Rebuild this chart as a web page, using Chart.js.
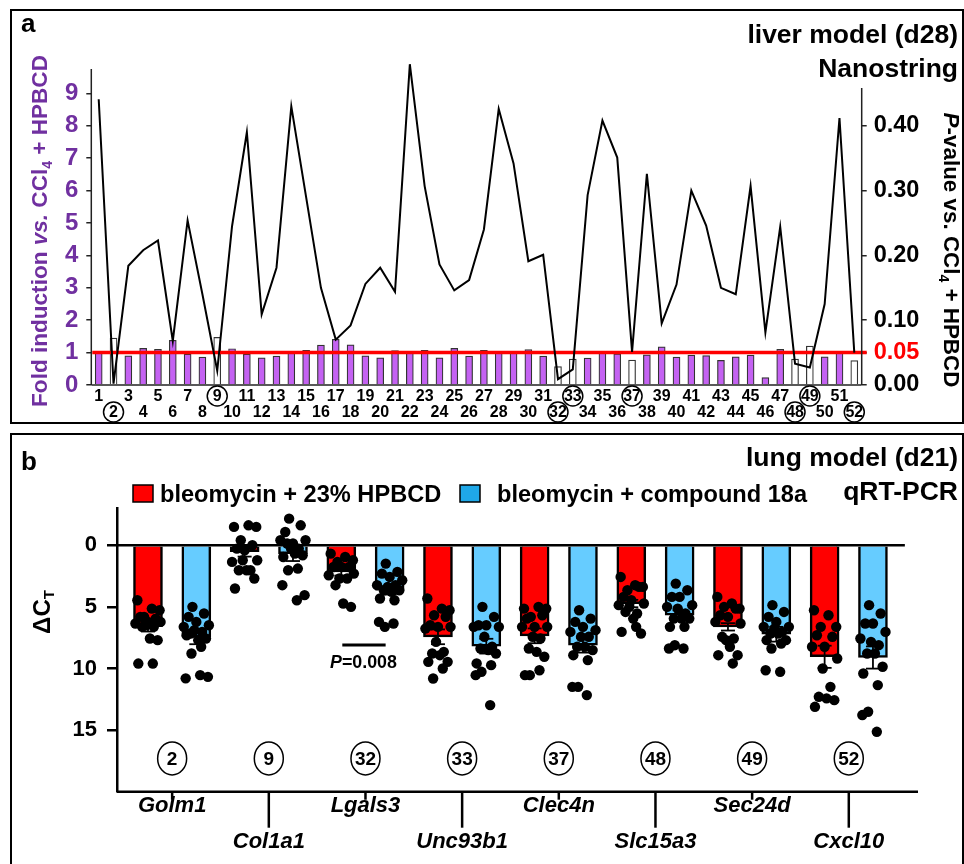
<!DOCTYPE html>
<html>
<head>
<meta charset="utf-8">
<script src="https://cdn.jsdelivr.net/npm/chart.js@4.4.1/dist/chart.umd.min.js"></script>
<style>
  body { margin: 0; background: #fff; }
  #wrap { position: relative; width: 964px; height: 864px; overflow: hidden; }
  canvas { position: absolute; left: 0; }
  #ca { top: 0; }
  #cb { top: 428px; }
</style>
</head>
<body>
<div id="wrap">
  <canvas id="ca" width="964" height="428"></canvas>
  <canvas id="cb" width="964" height="436"></canvas>
</div>
<script>
"use strict";

// ---------- panel a: liver model, Nanostring ----------
const GENE_NO = Array.from({ length: 52 }, (_, i) => String(i + 1));

const FOLD = [
  1.00, 1.45, 0.90, 1.13, 1.10, 1.38, 0.95, 0.86, 1.47, 1.12,
  0.95, 0.84, 0.89, 0.98, 1.07, 1.23, 1.41, 1.24, 0.90, 0.84,
  1.06, 1.01, 1.07, 0.84, 1.13, 0.89, 1.07, 1.01, 1.00, 1.09,
  0.89, 0.57, 0.80, 0.83, 1.00, 0.96, 0.77, 0.93, 1.18, 0.86,
  0.92, 0.91, 0.76, 0.87, 0.92, 0.23, 1.10, 0.80, 1.20, 0.87,
  1.00, 0.75
];

const PVAL = [
  0.441, 0.002, 0.184, 0.208, 0.223, 0.068, 0.254, 0.140, 0.022, 0.245,
  0.390, 0.109, 0.181, 0.430, 0.290, 0.150, 0.070, 0.092, 0.156, 0.181,
  0.144, 0.495, 0.307, 0.186, 0.146, 0.162, 0.240, 0.426, 0.342, 0.191,
  0.201, 0.009, 0.024, 0.293, 0.408, 0.351, 0.051, 0.326, 0.095, 0.155,
  0.300, 0.246, 0.150, 0.140, 0.307, 0.081, 0.244, 0.033, 0.027, 0.125,
  0.412, 0.050
];

const SIG = [2, 9, 32, 33, 37, 48, 49, 52];
const FOLD_TICKS = [0, 1, 2, 3, 4, 5, 6, 7, 8, 9];
const P_TICKS = [0, 0.05, 0.10, 0.20, 0.30, 0.40];
const FOLD_CUTOFF = 1;

// ---------- panel b: lung model, qRT-PCR ----------
const GENES = ["Golm1", "Col1a1", "Lgals3", "Unc93b1", "Clec4n", "Slc15a3", "Sec24d", "Cxcl10"];
const GENE_IDS = ["2", "9", "32", "33", "37", "48", "49", "52"];
const SERIES = ["bleomycin + 23% HPBCD", "bleomycin + compound 18a"];

const HPBCD_MEAN = [6.60, 0.52, 2.16, 7.43, 7.35, 4.73, 6.62, 9.05];
const HPBCD_SEM  = [0.40, 0.40, 0.30, 0.60, 0.60, 0.30, 0.30, 0.90];
const CMPD_MEAN  = [7.43, 0.68, 3.65, 8.19, 8.11, 5.68, 7.22, 9.11];
const CMPD_SEM   = [0.60, 0.60, 0.35, 0.60, 0.60, 0.40, 0.60, 0.90];

const HPBCD_DOTS = [
  [4.46, 5.14, 5.27, 5.81, 5.95, 5.81, 6.22, 6.22, 6.35, 6.49, 6.62, 6.62, 7.57, 7.70, 9.60, 9.60],
  [-1.49, -1.62, -1.49, -0.41, 0, 0.27, 0.41, 1.22, 1.35, 1.22, 2.03, 2.03, 2.03, 2.70, 3.51],
  [0.68, 0.95, 1.22, 1.35, 1.76, 1.76, 1.76, 2.30, 2.43, 2.70, 2.70, 3.24, 4.73, 5.00],
  [4.32, 5.14, 5.27, 5.68, 5.81, 6.49, 6.62, 6.62, 6.76, 7.84, 8.65, 8.78, 8.92, 9.46, 9.46, 10.00, 10.81],
  [5.14, 5.00, 5.14, 5.81, 5.68, 5.95, 6.62, 6.62, 6.62, 7.43, 7.57, 8.38, 8.65, 9.05, 10.54, 10.14, 10.54],
  [2.57, 3.24, 3.38, 3.65, 3.38, 4.19, 4.46, 4.73, 4.86, 5.00, 5.54, 5.41, 5.95, 7.16, 7.03, 6.62],
  [4.19, 4.73, 5.14, 5.00, 5.14, 5.68, 5.81, 6.35, 6.22, 7.70, 7.57, 7.43, 8.24, 8.92, 8.92, 9.59],
  [5.27, 5.68, 6.62, 6.62, 7.43, 7.30, 8.24, 9.19, 8.24, 10.00, 11.49, 12.30, 12.43, 12.57, 13.11]
];
const CMPD_DOTS = [
  [5.00, 5.54, 5.81, 6.22, 6.49, 6.62, 6.89, 7.03, 7.16, 7.70, 7.57, 7.30, 8.24, 8.78, 10.80, 10.54, 10.68],
  [-2.16, -1.62, -1.08, -0.14, -0.41, -0.41, 0.27, 0.27, -0.14, 0.68, 0.81, 0.95, 1.89, 2.03, 3.24, 4.46, 4.05],
  [1.49, 2.16, 2.30, 2.57, 2.84, 3.24, 3.38, 3.24, 3.65, 3.78, 3.65, 4.32, 4.46, 6.62, 6.22, 6.35],
  [5.00, 5.81, 6.49, 6.49, 6.62, 6.62, 7.43, 8.24, 8.38, 8.51, 8.78, 9.59, 9.73, 10.27, 10.54, 12.97],
  [5.27, 5.95, 6.22, 6.62, 6.89, 7.03, 7.43, 7.43, 8.24, 8.24, 8.51, 8.92, 9.32, 11.49, 11.49, 12.16],
  [3.11, 3.65, 4.19, 4.19, 4.86, 5.00, 5.14, 5.54, 5.95, 5.95, 5.95, 6.62, 6.62, 8.11, 8.38, 8.38],
  [4.86, 5.41, 5.81, 6.22, 6.62, 6.62, 6.76, 7.03, 7.16, 7.16, 7.70, 7.70, 7.97, 8.38, 10.14, 10.27],
  [4.86, 5.54, 6.35, 6.35, 7.03, 7.57, 7.84, 8.11, 8.78, 8.78, 9.86, 10.41, 11.35, 13.51, 13.78, 15.14]
];
const DCT_TICKS = [0, 5, 10, 15];

// horizontal spread of the dots around a bar (x units), cycled
const JITTER = [-0.22, 0.08, 0.24, -0.08, 0.16, -0.16, 0, 0.26, -0.26, -0.04, 0.12, -0.12, 0.04, 0.2, -0.2, 0.1, -0.1];

const FAM = '"Liberation Sans", Arial, sans-serif';
const PURPLE = "#7030a0";
const RED = "#ff0000";

function fontOf(run, size) {
  let s = run.sub ? size * 0.62 : size;
  return (run.i ? "italic " : "") + "bold " + s.toFixed(2) + "px " + FAM;
}

function runsWidth(ctx, runs, size) {
  let w = 0;
  for (let r of runs) {
    ctx.font = fontOf(r, size);
    w += ctx.measureText(r.t).width;
  }
  return w;
}

// draws mixed-style text centred on (cx, cy); len = wanted length in px
function drawRuns(ctx, runs, cx, cy, len, color, angle) {
  let size = 100 * len / runsWidth(ctx, runs, 100);
  let w = runsWidth(ctx, runs, size);
  ctx.save();
  ctx.translate(cx, cy);
  ctx.rotate(angle);
  ctx.fillStyle = color;
  ctx.textAlign = "left";
  ctx.textBaseline = "middle";
  let x = -w / 2;
  for (let r of runs) {
    ctx.font = fontOf(r, size);
    ctx.fillText(r.t, x, r.sub ? size * 0.3 : 0);
    x += ctx.measureText(r.t).width;
  }
  ctx.restore();
}

function seg(ctx, x1, y1, x2, y2) {
  ctx.beginPath();
  ctx.moveTo(x1, y1);
  ctx.lineTo(x2, y2);
  ctx.stroke();
}

// ---------- chart a ----------
const panelA = {
  id: "panelA",
  afterDatasetDraw(chart, args) {
    if (args.index !== 0) return;
    let c = chart.ctx, a = chart.chartArea;
    let y = chart.scales.y.getPixelForValue(FOLD_CUTOFF);
    c.save();
    c.strokeStyle = RED;
    c.lineWidth = 3.5;
    seg(c, a.left + 1, y, a.right + 5, y);
    c.restore();
  },
  afterDraw(chart) {
    let c = chart.ctx, a = chart.chartArea, xs = chart.scales.x;
    let base = chart.scales.y.getPixelForValue(0);
    c.save();
    c.strokeStyle = "#000";
    c.lineWidth = 2;
    c.strokeRect(11, 10, 952, 413);

    c.strokeStyle = "#222";
    c.lineWidth = 1.5;
    seg(c, a.left, 69, a.left, base);
    seg(c, a.right, 88, a.right, base);
    seg(c, a.left, base, a.right, base);

    // gene numbers, odd on first row, even on second
    c.fillStyle = "#000";
    c.textAlign = "center";
    c.textBaseline = "middle";
    c.font = "bold 16px " + FAM;
    c.lineWidth = 1.5;
    c.strokeStyle = "#000";
    GENE_NO.forEach((n, i) => {
      let x = xs.getPixelForValue(i);
      let y = (i % 2 === 0) ? 396 : 412;
      c.fillText(n, x, y + 1);
      if (SIG.includes(+n)) {
        c.beginPath();
        c.arc(x, y, 10, 0, Math.PI * 2);
        c.stroke();
      }
    });

    c.font = "bold 26px " + FAM;
    c.textAlign = "left";
    c.textBaseline = "alphabetic";
    c.fillText("a", 21, 32);
    c.textAlign = "right";
    c.font = "bold 26.5px " + FAM;
    c.fillText("liver model (d28)", 958, 43);
    c.fillText("Nanostring", 958, 77);

    drawRuns(c, [
      { t: "Fold induction " }, { t: "vs.", i: true }, { t: " CCl" }, { t: "4", sub: true }, { t: " + HPBCD" }
    ], 41, 231, 352, PURPLE, -Math.PI / 2);
    drawRuns(c, [
      { t: "P", i: true }, { t: "-value vs. CCl" }, { t: "4", sub: true }, { t: " + HPBCD" }
    ], 950, 250, 275, "#000", Math.PI / 2);
    c.restore();
  }
};

new Chart(document.getElementById("ca"), {
  type: "bar",
  data: {
    labels: GENE_NO,
    datasets: [{
      type: "bar",
      label: "Fold induction",
      data: FOLD,
      yAxisID: "y",
      order: 2,
      barThickness: 7,
      backgroundColor: GENE_NO.map(n => SIG.includes(+n) ? "#ffffff" : "#c462f2"),
      borderColor: "#333",
      borderWidth: 1.2
    }, {
      type: "line",
      label: "P-value",
      data: PVAL,
      yAxisID: "y1",
      order: 1,
      borderColor: "#000",
      borderWidth: 2,
      pointRadius: 0,
      tension: 0,
      fill: false,
      clip: false
    }]
  },
  options: {
    responsive: false,
    animation: false,
    devicePixelRatio: 1,
    layout: { padding: { top: 61, left: 0, right: 0, bottom: 0 } },
    plugins: { legend: { display: false }, tooltip: { enabled: false } },
    scales: {
      x: {
        offset: true,
        grid: { display: false },
        border: { display: false },
        ticks: { display: false },
        afterFit(s) { s.height = 43; }
      },
      y: {
        position: "left",
        min: 0,
        max: 10,
        afterBuildTicks(s) { s.ticks = FOLD_TICKS.map(v => ({ value: v })); },
        afterFit(s) { s.width = 91.3; },
        grid: { drawOnChartArea: false, tickLength: 5, color: "#222", lineWidth: 1.5 },
        border: { display: false },
        ticks: { color: PURPLE, padding: 8, font: { family: FAM, weight: "bold", size: 24 } }
      },
      y1: {
        position: "right",
        min: 0,
        max: 0.5,
        afterBuildTicks(s) { s.ticks = P_TICKS.map(v => ({ value: v })); },
        afterFit(s) { s.width = 102.3; },
        grid: { drawOnChartArea: false, tickLength: 5, color: "#222", lineWidth: 1.5 },
        border: { display: false },
        ticks: {
          padding: 7,
          color: ctx => (ctx.tick && Math.abs(ctx.tick.value - 0.05) < 1e-9) ? RED : "#000",
          font: { family: FAM, weight: "bold", size: 23.5 },
          callback: v => Number(v).toFixed(2)
        }
      }
    }
  },
  plugins: [panelA]
});

// ---------- chart b ----------
const P_NOTE = { from: 4, to: 5, y: 8.1, textY: 9.6, text: "0.008" };

let dotData = [];
GENES.forEach((g, i) => {
  HPBCD_DOTS[i].forEach((v, j) => dotData.push({ x: 2 * i + JITTER[j % JITTER.length], y: v }));
  CMPD_DOTS[i].forEach((v, j) => dotData.push({ x: 2 * i + 1 + JITTER[(j + 3) % JITTER.length], y: v }));
});

const panelB = {
  id: "panelB",
  afterDatasetDraw(chart, args) {
    if (args.index !== 1) return;
    let c = chart.ctx, xs = chart.scales.x, ys = chart.scales.y, a = chart.chartArea;
    c.save();
    c.strokeStyle = "#000";
    c.lineWidth = 2.5;
    seg(c, a.left, ys.getPixelForValue(0), xs.getPixelForValue(15.66), ys.getPixelForValue(0));

    c.lineWidth = 1.8;
    let bars = [];
    GENES.forEach((g, i) => {
      bars.push([2 * i, HPBCD_MEAN[i], HPBCD_SEM[i]]);
      bars.push([2 * i + 1, CMPD_MEAN[i], CMPD_SEM[i]]);
    });
    for (let [x, m, s] of bars) {
      let px = xs.getPixelForValue(x);
      let y1 = ys.getPixelForValue(m - s), y2 = ys.getPixelForValue(m + s);
      seg(c, px, y1, px, y2);
      seg(c, px - 7, y1, px + 7, y1);
      seg(c, px - 7, y2, px + 7, y2);
    }
    c.restore();
  },
  afterDraw(chart) {
    let c = chart.ctx, xs = chart.scales.x, ys = chart.scales.y, a = chart.chartArea;
    c.save();
    c.strokeStyle = "#000";
    c.lineWidth = 2;
    c.strokeRect(11, 6, 952, 440);

    // x axis with staggered gene labels
    c.lineWidth = 2.5;
    seg(c, a.left, a.bottom, a.right, a.bottom);
    c.fillStyle = "#000";
    c.textAlign = "center";
    c.textBaseline = "middle";
    GENES.forEach((g, i) => {
      let px = xs.getPixelForValue(2 * i + 0.5);
      let low = i % 2 === 1;
      c.lineWidth = 2.5;
      seg(c, px, a.bottom, px, a.bottom + (low ? 36 : 8));
      c.font = "italic bold 22px " + FAM;
      c.fillText(g, px, low ? 414 : 378);

      // gene number in a circle
      let cy = ys.getPixelForValue(17.3);
      c.font = "bold 19px " + FAM;
      c.fillText(GENE_IDS[i], px, cy + 1);
      c.lineWidth = 1.5;
      c.beginPath();
      c.ellipse(px, cy, 14.5, 16.5, 0, 0, Math.PI * 2);
      c.stroke();
    });

    // P value bar
    let pyl = ys.getPixelForValue(P_NOTE.y);
    c.lineWidth = 3;
    seg(c, xs.getPixelForValue(P_NOTE.from) + 1, pyl, xs.getPixelForValue(P_NOTE.to) - 4, pyl);
    drawRuns(c, [{ t: "P", i: true }, { t: "=" + P_NOTE.text }],
      (xs.getPixelForValue(P_NOTE.from) + xs.getPixelForValue(P_NOTE.to)) / 2 - 2,
      ys.getPixelForValue(P_NOTE.textY), 67, "#000", 0);

    // axis title
    drawRuns(c, [{ t: "\u0394C" }, { t: "T", sub: true }], 43, 184, 44, "#000", -Math.PI / 2);

    // legend
    c.lineWidth = 1.5;
    c.fillStyle = RED;
    c.fillRect(133, 57, 20, 17);
    c.strokeRect(133, 57, 20, 17);
    c.fillStyle = "#1fa8e8";
    c.fillRect(460, 57, 20, 17);
    c.strokeRect(460, 57, 20, 17);
    c.fillStyle = "#000";
    c.textAlign = "left";
    c.textBaseline = "alphabetic";
    c.font = "bold 23.6px " + FAM;
    c.fillText(SERIES[0], 160, 74);
    c.fillText(SERIES[1], 497, 74);

    c.font = "bold 26px " + FAM;
    c.fillText("b", 21, 42);
    c.textAlign = "right";
    c.font = "bold 26.5px " + FAM;
    c.fillText("lung model (d21)", 958, 38);
    c.fillText("qRT-PCR", 958, 72);
    c.restore();
  }
};

new Chart(document.getElementById("cb"), {
  type: "bar",
  data: {
    datasets: [{
      type: "bar",
      label: SERIES[0],
      data: HPBCD_MEAN.map((v, i) => ({ x: 2 * i, y: v })),
      backgroundColor: RED,
      borderColor: "#000",
      borderWidth: 2.5,
      barThickness: 29,
      grouped: false,
      order: 3
    }, {
      type: "bar",
      label: SERIES[1],
      data: CMPD_MEAN.map((v, i) => ({ x: 2 * i + 1, y: v })),
      backgroundColor: "#66ccff",
      borderColor: "#000",
      borderWidth: 2.5,
      barThickness: 29,
      grouped: false,
      order: 2
    }, {
      type: "scatter",
      label: "animals",
      data: dotData,
      pointRadius: 5.2,
      pointBackgroundColor: "#000",
      pointBorderWidth: 0,
      order: 1
    }]
  },
  options: {
    responsive: false,
    animation: false,
    devicePixelRatio: 1,
    layout: { padding: { top: 80.3, left: 0, right: 46, bottom: 72.3 } },
    plugins: { legend: { display: false }, tooltip: { enabled: false } },
    scales: {
      x: {
        type: "linear",
        min: -0.641,
        max: 15.932,
        offset: false,
        display: false
      },
      y: {
        reverse: true,
        min: -3,
        max: 20,
        afterBuildTicks(s) { s.ticks = DCT_TICKS.map(v => ({ value: v })); },
        afterFit(s) { s.width = 117; },
        grid: { drawOnChartArea: false, tickLength: 10, color: "#000", lineWidth: 2.5 },
        border: { display: true, color: "#000", width: 2.5 },
        ticks: { color: "#000", padding: 10, font: { family: FAM, weight: "bold", size: 22 } }
      }
    }
  },
  plugins: [panelB]
});
</script>
</body>
</html>
